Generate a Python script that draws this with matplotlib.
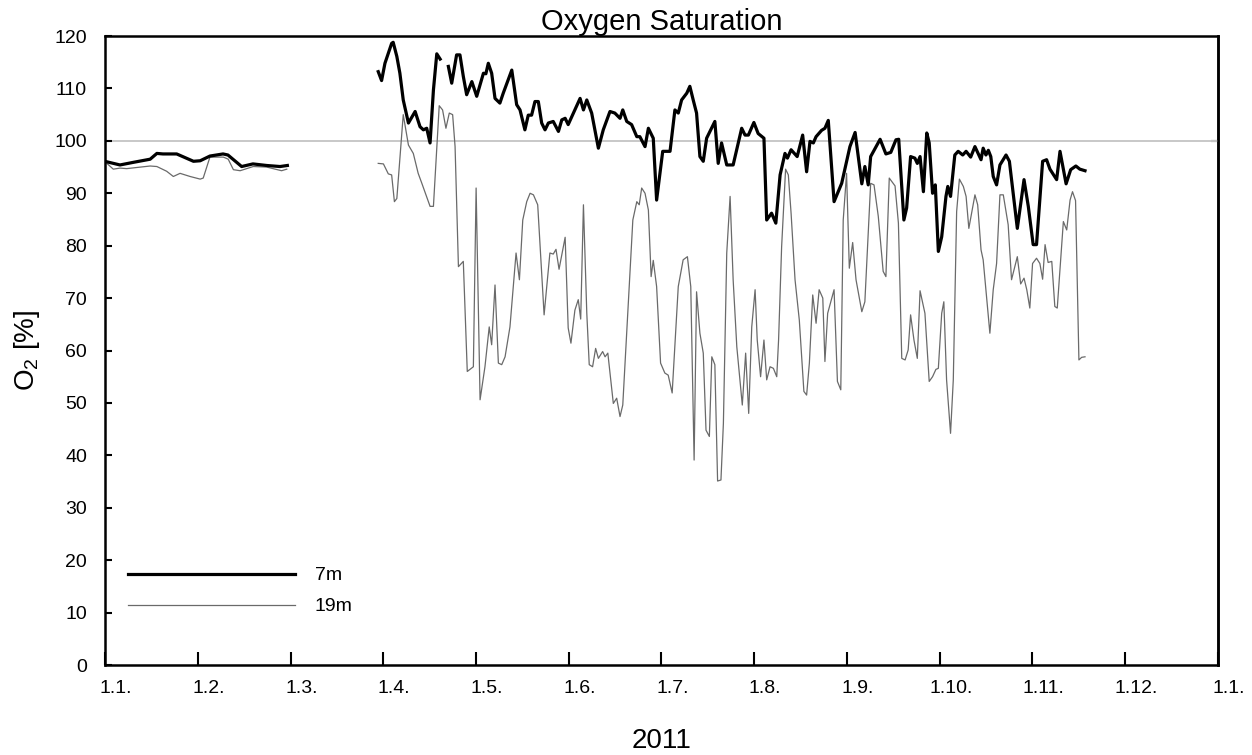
import numpy as np
import matplotlib
matplotlib.use("Agg")
import matplotlib.pyplot as plt
import matplotlib.dates as mdates
from matplotlib.transforms import ScaledTranslation

plt.rcParams['font.family'] = ['Liberation Sans', 'DejaVu Sans']
plt.rcParams['mathtext.fontset'] = 'custom'
plt.rcParams['mathtext.rm'] = 'Liberation Sans'

# days after 1 Jan 2011 and O2 saturation [%]
d7_a = [0.6, 4.9, 9.3, 14.8, 17.0, 19.0, 23.5, 29.0, 31.2, 34.4, 38.7, 40.3, 44.8, 48.5, 53.0, 57.4, 59.8]
o7_a = [96.0, 95.4, 95.9, 96.5, 97.6, 97.5, 97.5, 96.1, 96.2, 97.1, 97.5, 97.3, 95.1, 95.6, 95.3, 95.1, 95.3]

d7_b = [89.6, 90.7, 91.8, 94.0, 94.5, 95.7, 96.7, 97.8, 99.5, 101.7, 103.3, 104.4, 105.5, 106.6, 107.7, 108.8, 109.9]
o7_b = [113.2, 111.5, 114.8, 118.6, 118.8, 116.1, 112.9, 107.8, 103.4, 105.6, 102.7, 102.1, 102.4, 99.6, 109.7, 116.6, 115.6]

d7_c = [112.6, 113.7, 115.3, 116.4, 117.5, 118.6, 120.3, 121.9, 124.1, 124.9, 125.7, 126.8, 127.9, 129.5, 130.6,
        133.4, 135.0, 136.1, 137.7, 138.8, 139.9, 141.0, 142.1, 143.2, 144.3, 145.4, 147.0, 148.7, 149.8, 150.9,
        151.9, 153.6, 155.8, 156.9, 158.0, 159.6, 161.8, 163.4, 165.6, 167.2, 168.9, 169.8, 171.1, 172.7, 174.4,
        175.4, 177.1, 178.2, 179.8, 180.9, 182.0, 182.9, 185.3, 186.9, 188.0, 189.1, 190.8, 191.8, 192.9, 194.0,
        195.1, 196.2, 197.3, 200.0, 201.1, 202.2, 203.9, 206.0, 208.8, 209.9, 211.0, 212.8, 214.2, 216.1, 217.0,
        218.6, 220.0, 221.4, 223.0, 223.8, 225.0, 227.0, 228.8, 230.1, 231.2, 232.3, 233.2, 235.0, 236.1, 237.2,
        239.1, 241.6, 244.3, 246.0, 248.2, 249.2, 250.3, 251.1, 254.2, 256.1, 257.7, 259.4, 260.3, 262.0, 262.9,
        264.2, 265.6, 266.4, 267.3, 268.4, 269.5, 270.3, 271.4, 272.3, 273.3, 274.4, 275.8, 276.4, 277.3, 278.7,
        279.8, 281.3, 282.4, 283.9, 285.3, 287.3, 288.0, 288.9, 289.7, 290.5, 291.3, 292.4, 293.5, 295.5, 296.6,
        299.2, 301.4, 302.8, 304.4, 305.5, 307.5, 308.8, 309.9, 312.1, 313.2, 315.2, 316.7, 318.4, 319.7, 321.4]
o7_c = [114.2, 111.0, 116.4, 116.4, 112.3, 108.8, 111.3, 108.5, 112.9, 112.8, 114.8, 112.9, 108.1, 107.2, 109.1,
        113.5, 106.9, 105.9, 102.1, 104.9, 104.9, 107.5, 107.5, 103.4, 102.1, 103.4, 103.7, 101.8, 104.0, 104.3,
        103.1, 105.3, 108.1, 105.9, 107.8, 105.3, 98.6, 102.1, 105.6, 105.3, 104.3, 105.9, 103.7, 103.1, 100.8,
        100.8, 98.9, 102.4, 100.5, 88.7, 93.8, 98.0, 98.0, 105.9, 105.3, 107.8, 109.1, 110.4, 107.8, 105.3,
        97.0, 96.1, 100.5, 103.7, 95.7, 99.6, 95.4, 95.4, 102.4, 101.1, 101.1, 103.5, 101.4, 100.5, 84.9,
        86.2, 84.3, 93.5, 97.6, 96.7, 98.3, 97.0, 101.1, 94.1, 99.9, 99.6, 100.8, 102.0, 102.4, 103.9,
        88.4, 91.9, 98.9, 101.6, 91.8, 95.1, 91.6, 97.0, 100.3, 97.5, 97.8, 100.2, 100.3, 84.9, 87.2,
        97.0, 96.7, 95.7, 97.0, 90.3, 101.5, 99.6, 90.0, 91.6, 78.9, 81.7, 89.4, 91.3, 89.4, 97.3,
        98.0, 97.3, 98.0, 96.9, 98.9, 96.4, 98.6, 97.3, 98.2, 97.0, 93.2, 91.6, 95.4, 97.3, 96.1,
        83.3, 92.6, 87.5, 80.2, 80.2, 96.1, 96.4, 94.6, 92.6, 98.0, 91.8, 94.5, 95.2, 94.6, 94.3]

d19_a = [0.6, 2.7, 4.9, 7.1, 14.8, 17.0, 20.2, 22.4, 24.6, 27.9, 31.2, 32.2, 34.4, 38.8, 40.4, 42.1, 44.3, 48.6,
         53.0, 57.9, 59.6]
o19_a = [95.7, 94.6, 94.8, 94.7, 95.2, 95.1, 94.2, 93.2, 93.8, 93.2, 92.7, 92.9, 96.9, 96.9, 96.5, 94.5, 94.3, 95.1,
         95.0, 94.3, 94.6]

d19_b = [89.6, 91.3, 92.9, 94.0, 94.9, 95.7, 97.8, 99.5, 101.1, 102.7, 103.9, 106.6, 107.7, 109.6, 110.7, 111.8,
         112.9, 114.0, 114.8, 115.9, 117.5, 118.8, 120.8, 121.7, 123.0, 124.6, 126.0, 126.8, 127.9, 129.0, 130.1,
         131.2, 132.8, 134.8, 135.9, 137.0, 138.3, 139.4, 140.5, 141.9, 144.0, 145.9, 147.0, 147.9, 148.9, 150.9,
         151.9, 152.8, 154.1, 155.2, 156.0, 156.9, 158.0, 158.8, 159.9, 160.9, 161.8, 163.2, 164.0, 164.9, 166.7,
         167.8, 168.9, 169.8, 173.1, 174.4, 175.2, 176.0, 177.1, 178.2, 179.1, 179.8, 180.9, 182.2, 183.6, 184.7,
         186.0, 188.0, 189.6, 191.0, 192.1, 193.2, 194.0, 195.1, 196.2, 197.1, 198.2, 199.0, 200.0, 200.9, 202.0,
         202.8, 203.9, 205.0, 206.0, 207.2, 209.0, 210.1, 211.1, 212.1, 213.2, 213.9, 215.0, 216.1, 217.0, 218.1,
         219.2, 220.3, 220.9, 221.9, 223.2, 224.1, 225.0, 226.3, 227.7, 229.2, 230.1, 231.0, 232.1, 233.2, 234.2,
         235.4, 236.1, 237.0, 239.1, 240.2, 241.3, 242.1, 243.2, 244.1, 245.2, 246.3, 248.2, 249.2, 251.1, 252.2,
         253.6, 255.2, 256.1, 257.2, 259.1, 260.2, 261.3, 262.4, 263.4, 264.2, 265.3, 266.4, 267.3, 268.9, 270.3,
         271.4, 272.5, 273.3, 274.4, 275.1, 276.0, 277.3, 278.2, 279.3, 280.2, 281.5, 282.4, 283.3, 285.3, 286.2,
         287.3, 288.0, 290.2, 291.3, 292.4, 293.5, 294.6, 296.2, 297.3, 299.2, 300.3, 301.4, 302.3, 303.3, 304.2,
         305.5, 306.6, 307.5, 308.3, 309.3, 310.5, 311.5, 312.3, 314.3, 315.4, 316.5, 317.3, 318.3, 319.4, 320.3,
         321.4]
o19_b = [95.7, 95.6, 93.7, 93.5, 88.4, 89.0, 105.0, 99.2, 97.6, 93.8, 91.9, 87.5, 87.5, 106.7, 105.9, 102.4,
         105.3, 105.0, 98.9, 76.0, 77.0, 56.0, 56.9, 91.0, 50.6, 56.9, 64.5, 61.1, 72.5, 57.6, 57.3,
         58.8, 64.5, 78.6, 73.5, 84.9, 88.4, 90.0, 89.7, 87.8, 66.8, 78.6, 78.4, 79.3, 75.5, 81.6,
         64.3, 61.4, 67.7, 69.7, 66.0, 87.8, 67.1, 57.3, 56.9, 60.4, 58.5, 59.8, 58.8, 59.5, 49.9,
         50.9, 47.4, 49.6, 84.9, 88.4, 87.8, 91.0, 90.0, 86.8, 74.1, 77.2, 72.2, 57.6, 55.7, 55.3,
         51.9, 72.2, 77.3, 77.9, 72.2, 39.1, 71.2, 63.3, 59.5, 44.8, 43.6, 58.8, 57.3, 35.1, 35.3,
         46.1, 78.6, 89.4, 73.5, 60.7, 49.6, 59.5, 48.0, 64.5, 71.6, 62.0, 55.0, 62.0, 54.4, 56.9,
         56.6, 55.0, 62.0, 79.8, 94.6, 93.5, 86.2, 73.5, 65.8, 52.2, 51.5, 57.6, 70.6, 65.2, 71.6,
         70.0, 57.9, 67.1, 71.6, 54.1, 52.5, 84.9, 93.8, 75.7, 80.6, 73.5, 67.4, 69.3, 91.9, 91.6,
         85.6, 75.1, 74.1, 92.9, 91.4, 84.3, 58.5, 58.2, 60.1, 66.8, 62.0, 58.5, 71.4, 67.1, 54.1,
         55.0, 56.4, 56.6, 67.1, 69.3, 54.4, 44.2, 54.4, 86.5, 92.7, 91.3, 89.4, 83.3, 89.7, 87.8,
         79.2, 77.3, 63.3, 71.6, 76.6, 89.7, 89.7, 84.0, 73.5, 77.9, 72.7, 73.8, 71.6, 68.1, 76.6,
         77.6, 76.6, 73.6, 80.2, 76.8, 77.0, 68.4, 68.1, 84.6, 83.0, 88.7, 90.3, 88.6, 58.2, 58.7,
         58.8]

# the reference spaces its month ticks evenly over the year
month_labels = ['1.1.', '1.2.', '1.3.', '1.4.', '1.5.', '1.6.', '1.7.', '1.8.', '1.9.', '1.10.', '1.11.',
                '1.12.', '1.1.']
y_ticks = [0, 10, 20, 30, 40, 50, 60, 70, 80, 90, 100, 110, 120]

base = np.datetime64('2011-01-01T00:00')


def to_dates(*parts):
    # join segments with a NaN gap so the line breaks where data is missing
    xs, ys = [], []
    for days, vals in parts:
        mins = np.round(np.array(days) * 1440).astype('timedelta64[m]')
        xs += list(base + mins) + [base]
        ys += list(vals) + [np.nan]
    return np.array(xs[:-1]), np.array(ys[:-1], dtype=float)


x7, y7 = to_dates((d7_a, o7_a), (d7_b, o7_b), (d7_c, o7_c))
x19, y19 = to_dates((d19_a, o19_a), (d19_b, o19_b))

fig = plt.figure(figsize=(12.52, 7.55), dpi=100)
ax = fig.add_axes([0.0839, 0.1192, 0.8889, 0.8331])

ax.axhline(100, color='#c8c8c8', lw=1.4, zorder=1)
ax.plot(x19, y19, color='#6a6a6a', lw=0.9, label='19m', zorder=2)
ax.plot(x7, y7, color='black', lw=2.3, label='7m', zorder=3)

t0 = mdates.date2num(base)
ticks = [t0 + i * 365 / 12 for i in range(len(month_labels))]
ax.set_xlim(ticks[0], ticks[-1])
ax.set_xticks(ticks)
ax.set_xticklabels(month_labels)
ax.set_ylim(0, 120)
ax.set_yticks(y_ticks)

for s in ax.spines.values():
    s.set_linewidth(1.8)
ax.tick_params(axis='x', direction='in', length=9.5, width=1.5, labelsize=14, pad=11)
ax.tick_params(axis='y', direction='in', length=5, width=1.5, labelsize=14, pad=13)
for lab in ax.get_xticklabels():
    lab.set_transform(lab.get_transform() + ScaledTranslation(0.11, 0, fig.dpi_scale_trans))

# single tick at 100 on the right spine
ax2 = ax.secondary_yaxis('right')
ax2.set_yticks([100])
ax2.tick_params(direction='in', length=5, width=1.5, labelright=False)
ax2.spines['right'].set_linewidth(1.8)

ax.set_title('Oxygen Saturation', fontsize=21, pad=3.5)
ax.set_ylabel('O$_2$ [%]', fontsize=20, labelpad=9)
ax.set_xlabel('2011', fontsize=20, labelpad=22)

h, l = ax.get_legend_handles_labels()
ax.legend(h[::-1], l[::-1], loc='upper left', bbox_to_anchor=(0.0207, 0.156), frameon=False, fontsize=14,
          handlelength=8.6, handletextpad=1.0, labelspacing=0.68, borderpad=0, borderaxespad=0)

fig.savefig('out.png', dpi=100)
